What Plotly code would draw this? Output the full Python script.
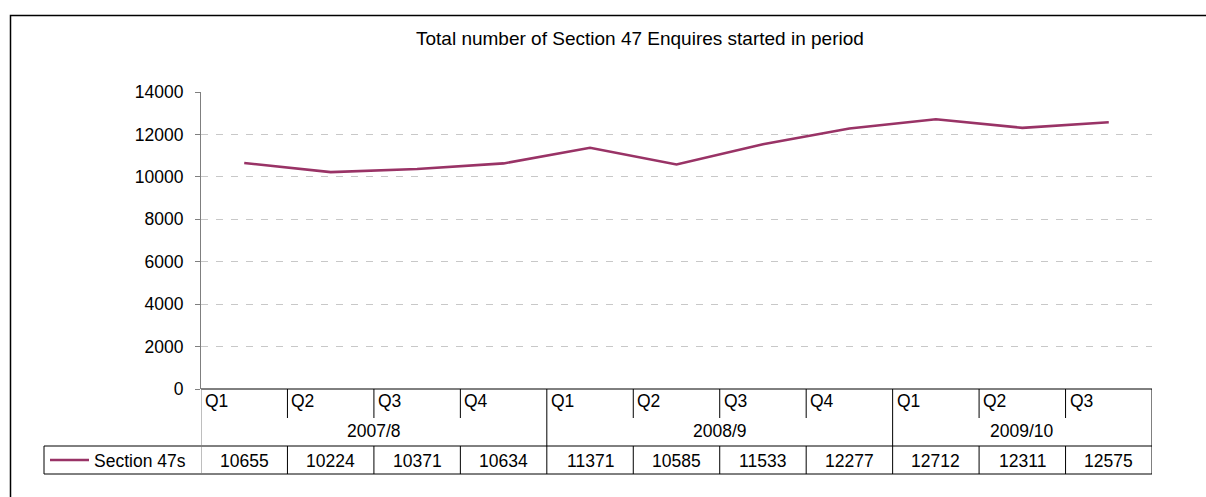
import plotly.graph_objects as go

# Quarterly counts of Section 47 enquiries started
quarters = ["Q1", "Q2", "Q3", "Q4", "Q1", "Q2", "Q3", "Q4", "Q1", "Q2", "Q3"]
years = ["2007/8", "2008/9", "2009/10"]
year_quarter_counts = [4, 4, 3]
section47 = [10655, 10224, 10371, 10634, 11371, 10585, 11533, 12277, 12712, 12311, 12575]
series_name = "Section 47s"
title_text = "Total number of Section 47 Enquires started in period"
y_ticks = [0, 2000, 4000, 6000, 8000, 10000, 12000, 14000]

W, H = 1206, 497
FONT = "Liberation Sans, Arial, sans-serif"
LINE_COLOR = "#993366"
TABLE_COLOR = "#000000"
TXT = 17.5


def py(pix):
    """Pixel row (from top) to paper y."""
    return (H - pix) / H


def px(pix):
    """Pixel column to paper x."""
    return pix / W


x_left, x_right = 201, 1152
y_top, y_zero = 92, 389
row_q, row_year, row_val = 418, 446, 474
legend_left = 44

n = len(section47)
xs = list(range(n))

fig = go.Figure()
fig.add_trace(go.Scatter(
    x=xs, y=section47, mode="lines", name=series_name,
    line=dict(color=LINE_COLOR, width=2.6), showlegend=False,
    hoverinfo="skip",
))

shapes = []
annotations = []

# Outer chart border
shapes.append(dict(type="rect", xref="paper", yref="paper",
                   x0=px(10.5), x1=1.02, y0=-0.02, y1=py(15.5),
                   line=dict(color="#000000", width=1.5)))


def hline(ypix, xa, xb):
    shapes.append(dict(type="line", xref="paper", yref="paper",
                       x0=px(xa), x1=px(xb), y0=py(ypix), y1=py(ypix),
                       line=dict(color=TABLE_COLOR, width=1)))


def vline_data(xv, ya, yb, color=TABLE_COLOR):
    shapes.append(dict(type="line", xref="x", yref="paper",
                       x0=xv, x1=xv, y0=py(ya), y1=py(yb),
                       line=dict(color=color, width=1)))


# Table frame lines
hline(y_zero, x_left, x_right)
hline(row_year, legend_left, x_right)
hline(row_val, legend_left, x_right)

# Left edge of the legend cell
shapes.append(dict(type="line", xref="paper", yref="paper",
                   x0=px(legend_left), x1=px(legend_left),
                   y0=py(row_year), y1=py(row_val),
                   line=dict(color=TABLE_COLOR, width=1)))

# Vertical separators
year_bounds = [0]
for c in year_quarter_counts:
    year_bounds.append(year_bounds[-1] + c)
for b in range(n + 1):
    xv = b - 0.5
    if b in year_bounds:
        col = "#7f7f7f" if b == 0 else TABLE_COLOR
        vline_data(xv, y_zero, row_val, col)
    else:
        vline_data(xv, y_zero, row_q)
        vline_data(xv, row_year, row_val)

# Quarter labels
for i, q in enumerate(quarters):
    annotations.append(dict(x=i - 0.5, y=py(389), xref="x", yref="paper",
                            text=q, showarrow=False, xanchor="left", yanchor="top",
                            xshift=2, font=dict(size=TXT, color="#000000", family=FONT)))

# Year labels, centred across their quarters
for k, yr in enumerate(years):
    start = year_bounds[k]
    end = year_bounds[k + 1]
    annotations.append(dict(x=(start + end - 1) / 2, y=py(431), xref="x", yref="paper",
                            text=yr, showarrow=False, xanchor="center", yanchor="middle",
                            font=dict(size=TXT, color="#000000", family=FONT)))

# Value row
for i, v in enumerate(section47):
    annotations.append(dict(x=i, y=py(460.5), xref="x", yref="paper",
                            text=str(v), showarrow=False, xanchor="center", yanchor="middle",
                            font=dict(size=TXT, color="#000000", family=FONT)))

# Legend key in the table
shapes.append(dict(type="line", xref="paper", yref="paper",
                   x0=px(50), x1=px(89), y0=py(460), y1=py(460),
                   line=dict(color=LINE_COLOR, width=2.6)))
annotations.append(dict(x=px(92), y=py(460.5), xref="paper", yref="paper",
                        text=series_name, showarrow=False, xanchor="left", yanchor="middle",
                        font=dict(size=TXT, color="#000000", family=FONT)))

# Title
annotations.append(dict(x=px(640), y=py(39), xref="paper", yref="paper",
                        text=title_text, showarrow=False, xanchor="center", yanchor="middle",
                        font=dict(size=19, color="#000000", family=FONT)))

fig.update_layout(
    width=W, height=H,
    margin=dict(l=0, r=0, t=0, b=0, autoexpand=False),
    paper_bgcolor="white", plot_bgcolor="white",
    shapes=shapes, annotations=annotations,
    xaxis=dict(domain=[px(x_left), px(x_right)], range=[-0.5, n - 0.5],
               showticklabels=False, showgrid=False, zeroline=False,
               showline=False, ticks="", automargin=False),
    yaxis=dict(domain=[py(y_zero), py(y_top)], range=[0, 14000],
               tickvals=y_ticks, ticktext=[str(t) for t in y_ticks],
               ticks="outside", ticklen=5, tickcolor="#7f7f7f",
               showline=True, linecolor="#7f7f7f", linewidth=1,
               showgrid=True, gridcolor="#c8c8c8", griddash="7px,8px", gridwidth=1,
               zeroline=False, ticklabelstandoff=8, automargin=False,
               tickfont=dict(size=TXT, color="#000000", family=FONT)),
    showlegend=False,
)

fig.write_html("out.html")
